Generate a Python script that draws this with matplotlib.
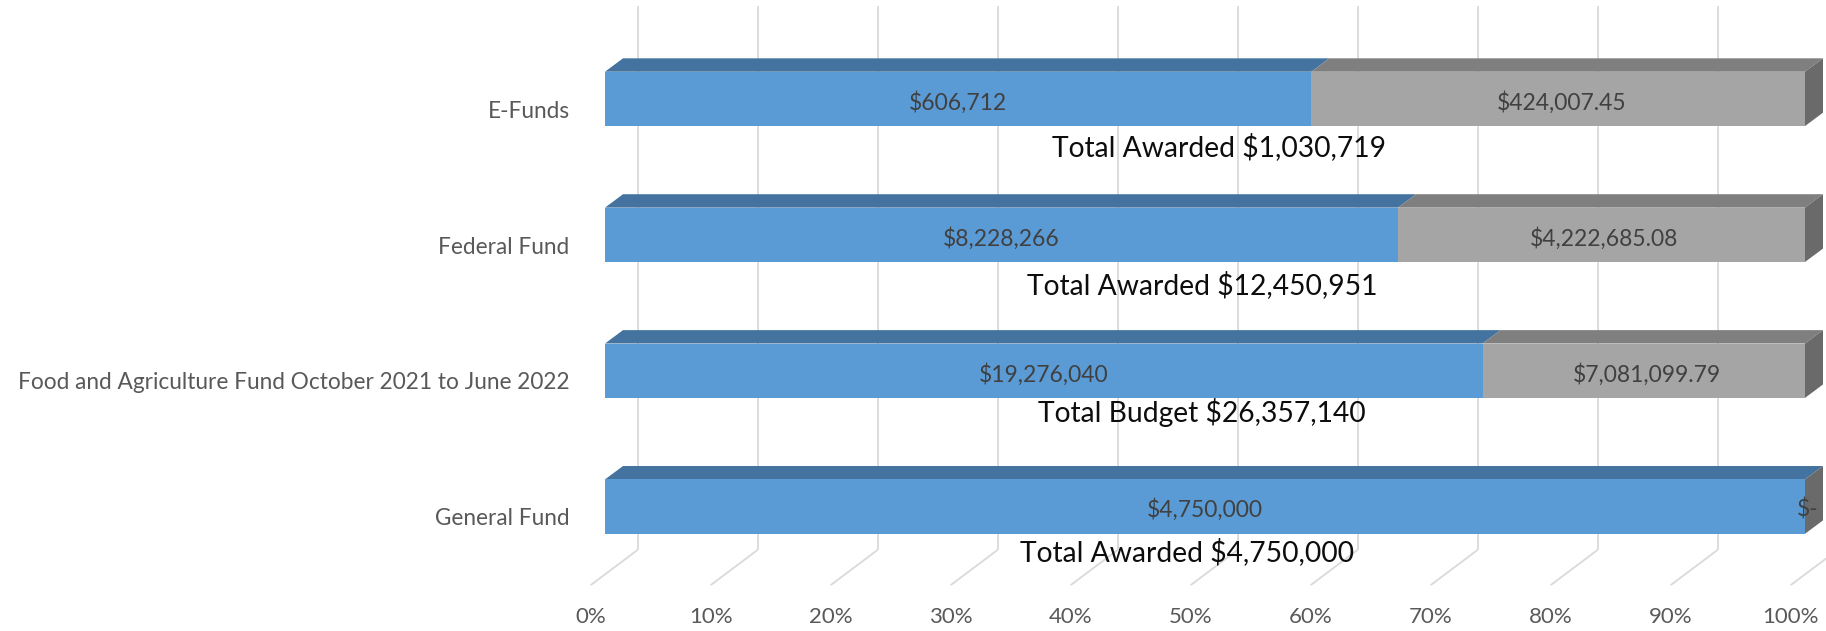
import numpy as np
import matplotlib
matplotlib.use("Agg")
from matplotlib import pyplot as plt
from matplotlib.patches import Polygon

# data (top to bottom)
categories = ["E-Funds", "Federal Fund",
              "Food and Agriculture Fund October 2021 to June 2022", "General Fund"]
spent = [606712, 8228266, 19276040, 4750000]
remaining = [424007.45, 4222685.08, 7081099.79, 0.0]
spent_labels = ["$606,712", "$8,228,266", "$19,276,040", "$4,750,000"]
remaining_labels = ["$424,007.45", "$4,222,685.08", "$7,081,099.79", "$-"]
total_labels = ["Total Awarded $1,030,719", "Total Awarded $12,450,951",
                "Total Budget $26,357,140", "Total Awarded $4,750,000"]
tick_labels = ["0%", "10%", "20%", "30%", "40%", "50%", "60%", "70%", "80%", "90%", "100%"]

# layout of the text boxes under the bars (x centre in axis units, y offset from bar)
total_x = [0.512, 0.498, 0.497, 0.485]
total_dy = [0.352, 0.37, 0.31, 0.335]

W, H = 1826, 631
X0PX, XSPAN = 605, 1200      # bar front plane: 0% -> 100%
Y0PX, YSTEP = 98.9, 135.9    # first bar centre, bar pitch

BLUE, BLUE_TOP = "#5B9BD5", "#44739F"
GRAY, GRAY_TOP, GRAY_SIDE = "#A5A5A5", "#7F7F7F", "#6A6A6A"
GRID = "#D9D9D9"
TXT = "#595959"

plt.rcParams['font.family'] = ['Lato', 'DejaVu Sans']

fig = plt.figure(figsize=(W / 100, H / 100), dpi=100)
ax = fig.add_axes([0, 0, 1, 1])
ax.set_xlim(-X0PX / XSPAN, (W - X0PX) / XSPAN)
ax.set_ylim((H - Y0PX) / YSTEP, -Y0PX / YSTEP)
ax.axis("off")


def px_x(p):
    return p / XSPAN


def px_y(p):
    return p / YSTEP


# oblique depth vectors (pixels -> data)
bar_dx, bar_dy = px_x(18), px_y(-13.4)
wall_dx, wall_dy = px_x(32.5), px_y(-24.2)
front_dx, front_dy = px_x(-14.3), px_y(10.9)
grid_top = px_y(6 - Y0PX)
floor_back = px_y(550 - Y0PX)
floor_front = floor_back + (front_dy - wall_dy)

spent = np.array(spent)
remaining = np.array(remaining)
totals = spent + remaining
frac_spent = spent / totals
frac_rem = remaining / totals
ypos = np.arange(len(categories))
bar_h = 0.4

# back wall gridlines and floor lines
ticks = np.linspace(0, 1, len(tick_labels))
for t, lab in zip(ticks, tick_labels):
    xb = t + wall_dx
    ax.plot([xb, xb], [grid_top, floor_back], color=GRID, lw=1.3, zorder=1,
            solid_capstyle="butt")
    ax.plot([xb, t + front_dx], [floor_back, floor_front], color=GRID, lw=1.3,
            zorder=1, solid_capstyle="butt")
    ax.text(t + front_dx, px_y(617 - Y0PX), lab,
            ha="center", va="center", fontsize=16, color=TXT)

# front faces
b1 = ax.barh(ypos, frac_spent, height=bar_h, color=BLUE, zorder=3)
b2 = ax.barh(ypos, frac_rem, left=frac_spent, height=bar_h, color=GRAY, zorder=3)

# top and side faces
for bars, top_col in ((b1, BLUE_TOP), (b2, GRAY_TOP)):
    for r in bars:
        x0, x1 = r.get_x(), r.get_x() + r.get_width()
        yt = r.get_y()
        ax.add_patch(Polygon([(x0, yt), (x1, yt), (x1 + bar_dx, yt + bar_dy),
                              (x0 + bar_dx, yt + bar_dy)], closed=True,
                             facecolor=top_col, edgecolor="none", zorder=2.5))
for r in b2:
    x1 = r.get_x() + r.get_width()
    yt, yb = r.get_y(), r.get_y() + r.get_height()
    ax.add_patch(Polygon([(x1, yt), (x1 + bar_dx, yt + bar_dy),
                          (x1 + bar_dx, yb + bar_dy), (x1, yb)], closed=True,
                         facecolor=GRAY_SIDE, edgecolor="none", zorder=2.5))

# data labels
for i in range(len(categories)):
    ax.text(frac_spent[i] / 2, ypos[i] + 0.025, spent_labels[i], ha="center",
            va="center", fontsize=16.5, color="#404040", zorder=5)
    ax.text(frac_spent[i] + frac_rem[i] / 2 + px_x(3), ypos[i] + 0.025,
            remaining_labels[i], ha="center", va="center", fontsize=16.5,
            color="#404040", zorder=5)
    ax.text(px_x(569.5 - X0PX), ypos[i] + 0.09, categories[i], ha="right",
            va="center", fontsize=16.3, color=TXT)
    ax.text(total_x[i], ypos[i] + total_dy[i], total_labels[i], ha="center",
            va="center", fontsize=20.3, color="#0D0D0D", zorder=6)

fig.savefig("out.png", dpi=100)
